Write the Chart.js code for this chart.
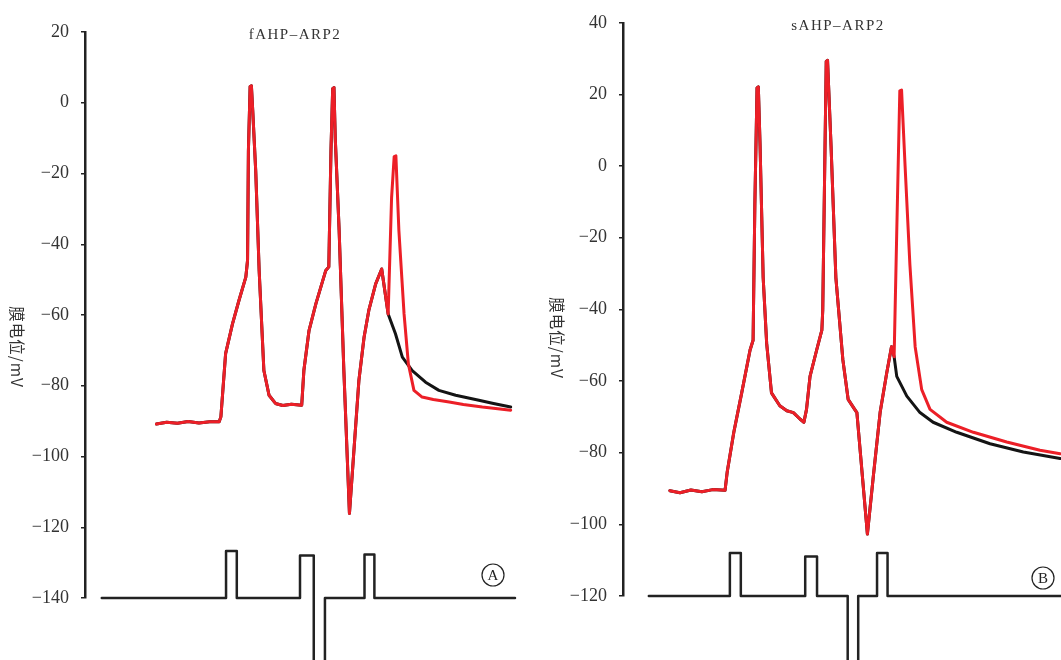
<!DOCTYPE html>
<html>
<head>
<meta charset="utf-8">
<script src="https://cdn.jsdelivr.net/npm/chart.js@4"></script>
<style>
    html, body { margin: 0; padding: 0; background: #fff; }
    .panel { position: absolute; top: 0; height: 660px; }
    #panelA { left: 0; width: 530px; }
    #panelB { left: 530px; width: 531px; }
</style>
</head>
<body>
<div class="panel" id="panelA"><canvas id="chartA"></canvas></div>
<div class="panel" id="panelB"><canvas id="chartB"></canvas></div>
<script>
// time in ms (arbitrary origin), membrane potential in mV

// panel A: fAHP-ARP2
const aSharedT = [16.6, 19, 21.5, 24, 26.5, 29, 31.2, 31.6, 32.7, 34.3, 35.8, 37.4, 37.8, 38.0, 38.4, 38.7, 39.0, 39.7, 40.5, 41.6, 42.8, 44.3, 46, 48, 50.4, 50.9, 52.1, 53.7, 56.0, 56.7, 57.2, 57.6, 57.9, 58.2, 59.1, 60.2, 61.5, 62.6, 63.7, 64.9, 66.0, 67.6, 69.0, 70.5];
const aSharedV = [-90.8, -90.3, -90.6, -90.1, -90.5, -90.2, -90.2, -88.8, -70.9, -62.5, -55.9, -49.3, -44.6, -13.6, 4.6, 4.8, -2, -19.2, -47.4, -75.7, -82.7, -85.0, -85.6, -85.2, -85.5, -75.7, -64.4, -56.8, -47.4, -46.4, -13.6, 4.0, 4.3, -10, -36, -75.7, -116.1, -97.3, -78.5, -66.3, -58.7, -51.2, -47.0, -59.7];
const aRedT = [71.3, 71.9, 72.3, 73.0, 74.2, 75.2, 76.5, 78.4, 81, 84.7, 88, 92.4, 95.5, 99.0];
const aRedV = [-26.8, -15.2, -15.0, -36.2, -59.7, -73.8, -81.3, -83.2, -83.9, -84.6, -85.3, -86.0, -86.4, -86.9];
const aBlackT = [72.2, 73.8, 76.1, 79.2, 82.3, 86.2, 91.6, 95, 99.0];
const aBlackV = [-65.3, -71.9, -75.7, -79.0, -81.3, -82.7, -84.1, -85.0, -86.0];
const aStimT = [3.9, 32.8, 32.8, 35.3, 35.3, 50.0, 50.0, 53.2, 53.2, 55.8, 55.8, 65.0, 65.0, 67.3, 67.3, 100];
const aStimV = [-140, -140, -126.7, -126.7, -140, -140, -128, -128, -158, -158, -140, -140, -127.7, -127.7, -140, -140];
const aTicks = [20, 0, -20, -40, -60, -80, -100, -120, -140];

// panel B: sAHP-ARP2
const bSharedT = [10.7, 13, 15.5, 18, 20.5, 23.3, 23.8, 25.3, 27.1, 29.0, 29.7, 30.1, 30.6, 30.9, 31.3, 32.0, 32.8, 33.9, 35.8, 37.4, 38.9, 40.4, 41.3, 41.9, 42.7, 44.2, 45.4, 45.6, 46.0, 46.4, 46.7, 47.5, 48.6, 50.2, 51.4, 52.9, 53.4, 55.8, 57.1, 58.7, 60.2, 61.3, 61.9];
const bSharedV = [-90.6, -91.2, -90.4, -90.9, -90.3, -90.5, -85.3, -74.3, -63.3, -51.4, -48.6, -11, 21.8, 22.1, 5.6, -31.1, -49.5, -63.3, -66.9, -68.3, -68.8, -70.6, -71.5, -67.9, -58.7, -51.4, -45.8, -40.3, -5.4, 29.2, 29.5, 5.6, -31.1, -54.1, -65.1, -67.9, -68.8, -102.7, -87.2, -68.8, -57.8, -50.4, -53.2];
const bRedT = [62.5, 63.2, 63.6, 64.4, 65.5, 66.7, 68.2, 70.1, 73.9, 80.0, 87.6, 95.2, 99.8];
const bRedV = [-18.3, 21.0, 21.2, 0.1, -27.5, -50.4, -62.4, -67.9, -71.5, -74.3, -77.0, -79.3, -80.3];
const bBlackT = [62.5, 64.8, 67.8, 70.8, 76.2, 83.8, 91.4, 99.8];
const bBlackV = [-58.7, -64.2, -68.8, -71.5, -74.3, -77.5, -79.8, -81.6];
const bStimT = [5.9, 24.4, 24.4, 26.9, 26.9, 41.6, 41.6, 44.3, 44.3, 51.3, 51.3, 53.7, 53.7, 58.0, 58.0, 60.4, 60.4, 100];
const bStimV = [-120, -120, -108, -108, -120, -120, -109, -109, -120, -120, -142, -142, -120, -120, -108, -108, -120, -120];
const bTicks = [40, 20, 0, -20, -40, -60, -80, -100, -120];

const RED = "#ec1f27";
const BLACK = "#141414";
const SERIF = "'Liberation Serif', 'DejaVu Serif', serif";

function pts(ts, vs) {
    return ts.map((t, i) => ({ x: t, y: vs[i] }));
}

// titles, rotated y label and circled panel letter
const decorPlugin = {
    id: "decor",
    afterDraw(chart, args, o) {
        const ctx = chart.ctx;
        ctx.save();
        ctx.fillStyle = "#333";
        ctx.textAlign = "center";
        ctx.textBaseline = "middle";

        ctx.font = "15px " + SERIF;
        ctx.letterSpacing = "1.5px";
        ctx.fillText(o.title, o.titleX, o.titleY);
        ctx.letterSpacing = "0px";

        ctx.save();
        ctx.translate(o.labelX, o.labelY);
        ctx.rotate(Math.PI / 2);
        ctx.font = "15.5px 'Noto Sans CJK SC', sans-serif";
        ctx.letterSpacing = "1px";
        ctx.fillText("膜电位/mV", 0, 0);
        ctx.letterSpacing = "0px";
        ctx.restore();

        ctx.strokeStyle = "#222";
        ctx.lineWidth = 1.2;
        ctx.beginPath();
        ctx.arc(o.markX, o.markY, 11, 0, Math.PI * 2);
        ctx.stroke();
        ctx.fillStyle = "#222";
        ctx.font = "15px " + SERIF;
        ctx.fillText(o.mark, o.markX, o.markY + 1);
        ctx.restore();
    }
};

function makeChart(id, d) {
    new Chart(document.getElementById(id), {
        type: "line",
        data: {
            datasets: [
                { label: "red", data: pts(d.sharedT.concat(d.redT), d.sharedV.concat(d.redV)), borderColor: RED, borderWidth: 3 },
                { label: "black", data: pts(d.sharedT.concat(d.blackT), d.sharedV.concat(d.blackV)), borderColor: BLACK, borderWidth: 3 },
                { label: "stim", data: pts(d.stimT, d.stimV), borderColor: "#222", borderWidth: 2.5, clip: false }
            ]
        },
        options: {
            responsive: true,
            maintainAspectRatio: false,
            animation: false,
            elements: { point: { radius: 0 }, line: { tension: 0, borderCapStyle: "round", borderJoinStyle: "round" } },
            layout: { padding: d.padding },
            plugins: {
                legend: { display: false },
                tooltip: { enabled: false },
                decor: d.decor
            },
            scales: {
                x: { type: "linear", min: 0, max: 100, display: false },
                y: {
                    min: d.ticks[d.ticks.length - 1],
                    max: d.ticks[0],
                    afterFit: s => { s.width = d.axisWidth; },
                    afterBuildTicks: s => { s.ticks = d.ticks.map(v => ({ value: v })); },
                    border: { display: true, color: "#222", width: 2.5 },
                    grid: { drawOnChartArea: false, drawTicks: true, tickLength: 4, color: "#222", lineWidth: 1.5 },
                    ticks: {
                        color: "#333",
                        padding: 12,
                        font: { family: SERIF, size: 18 },
                        callback: v => String(v).replace("-", "\u2212")
                    }
                }
            }
        },
        plugins: [decorPlugin]
    });
}

makeChart("chartA", {
    sharedT: aSharedT, sharedV: aSharedV, redT: aRedT, redV: aRedV,
    blackT: aBlackT, blackV: aBlackV, stimT: aStimT, stimV: aStimV, ticks: aTicks,
    axisWidth: 85,
    padding: { top: 32, bottom: 62, left: 0, right: 15 },
    decor: { title: "fAHP\u2013ARP2", titleX: 295, titleY: 35, labelX: 17, labelY: 347, mark: "A", markX: 493, markY: 575 }
});

makeChart("chartB", {
    sharedT: bSharedT, sharedV: bSharedV, redT: bRedT, redV: bRedV,
    blackT: bBlackT, blackV: bBlackV, stimT: bStimT, stimV: bStimV, ticks: bTicks,
    axisWidth: 93,
    padding: { top: 15, bottom: 64, left: 0, right: 0 },
    decor: { title: "sAHP\u2013ARP2", titleX: 308, titleY: 26, labelX: 27, labelY: 338, mark: "B", markX: 513, markY: 578 }
});
</script>
</body>
</html>
